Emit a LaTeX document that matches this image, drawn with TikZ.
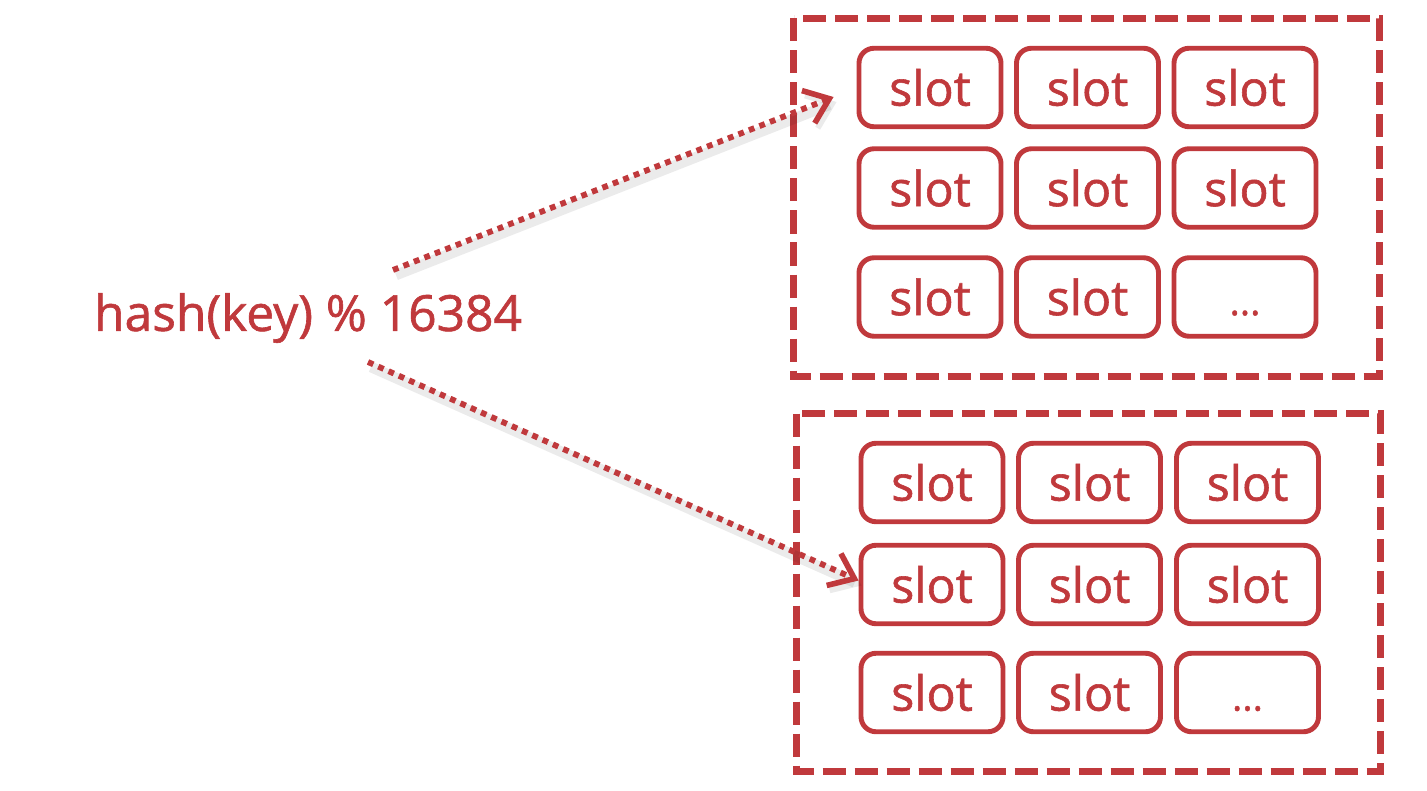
\documentclass[tikz,border=0pt]{standalone}
\usepackage{fontspec}
\setmainfont{Open Sans}
\newfontfamily\slotfont[FakeBold=1.2]{Open Sans}
\usetikzlibrary{arrows.meta, positioning}

\definecolor{slotred}{RGB}{192,57,60}

\tikzset{
    slotbox/.style={draw=slotred, line width=2.8pt, rounded corners=0.3cm, minimum width=2.84cm, minimum height=1.57cm, text=slotred, font=\slotfont\fontsize{27.5}{30}\selectfont, inner sep=0pt},
    groupbox/.style={draw=slotred, line width=4pt, dash pattern=on 0.46cm off 0.18cm},
    hashpath/.style={draw=slotred, line width=3.3pt, dash pattern=on 3.3pt off 3.1pt, -{Straight Barb[length=4.5mm, width=7mm, line width=3.2pt]},
        preaction={draw=black, opacity=0.08, line width=6pt, transform canvas={shift={(0.06,-0.1)}}}}
}

\begin{document}
\begin{tikzpicture}
    \useasboundingbox (0,0) rectangle (28.54,-15.82);  % page size

    % Groups of slots
    \draw[groupbox] (15.87,-0.37) rectangle (27.59,-7.53);  % upper group
    \draw[groupbox] (15.93,-8.27) rectangle (27.61,-15.43);  % lower group

    % Upper slots
    \node[slotbox] (a11) at (18.6,-1.75) {slot};
    \node[slotbox] (a12) at (21.75,-1.75) {slot};
    \node[slotbox] (a13) at (24.9,-1.75) {slot};
    \node[slotbox] (a21) at (18.6,-3.76) {slot};
    \node[slotbox] (a22) at (21.75,-3.76) {slot};
    \node[slotbox] (a23) at (24.9,-3.76) {slot};
    \node[slotbox] (a31) at (18.6,-5.94) {slot};
    \node[slotbox] (a32) at (21.75,-5.94) {slot};
    \node[slotbox] (a33) at (24.9,-5.94) {\vphantom{slot}\fontsize{22}{24}\selectfont...};

    % Lower slots
    \node[slotbox] (b11) at (18.64,-9.65) {slot};
    \node[slotbox] (b12) at (21.79,-9.65) {slot};
    \node[slotbox] (b13) at (24.95,-9.65) {slot};
    \node[slotbox] (b21) at (18.64,-11.69) {slot};
    \node[slotbox] (b22) at (21.79,-11.69) {slot};
    \node[slotbox] (b23) at (24.95,-11.69) {slot};
    \node[slotbox] (b31) at (18.64,-13.85) {slot};
    \node[slotbox] (b32) at (21.79,-13.85) {slot};
    \node[slotbox] (b33) at (24.95,-13.85) {\vphantom{slot}\fontsize{22}{24}\selectfont...};

    % Key
    \node[text=slotred, font=\slotfont\fontsize{28.3}{34}\selectfont] (hash) at (6.16,-6.36) {hash(key) \% 16384};
    \coordinate (up) at (7.86,-5.4);  % start of upper arrow
    \coordinate (down) at (7.36,-7.24);  % start of lower arrow

    % Connections
    \draw[hashpath] (up) -- ([xshift=-4.6mm, yshift=-1.9mm]a11.west);
    \draw[hashpath] (down) -- ([yshift=0.8mm]b21.west);
\end{tikzpicture}
\end{document}
